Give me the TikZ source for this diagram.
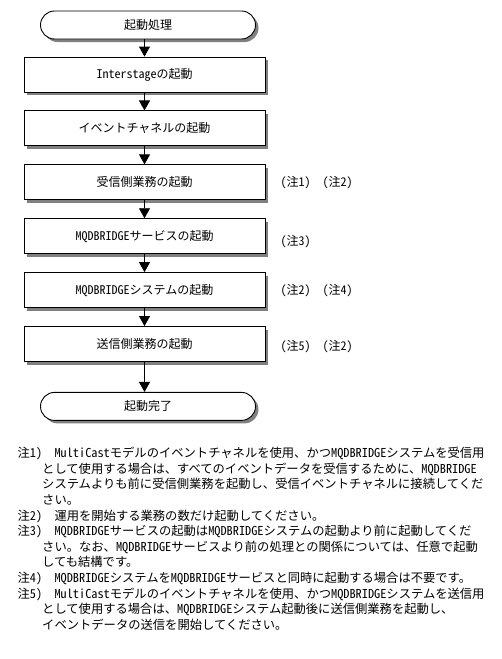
\documentclass[tikz,border=0pt]{standalone}
\usepackage{fontspec}
\setmainfont{Noto Sans CJK JP}
\newfontfamily\hwfont{Noto Sans CJK JP}[RawFeature=+hwid]
\newcommand{\hw}[1]{{\hwfont #1}}
\newcommand{\chu}[1]{\hw{(}注\hw{#1)}}
\usetikzlibrary{positioning,arrows.meta,shapes.misc,shadows}

\begin{document}
\begin{tikzpicture}[x=1pt, y=-1pt,
  blk/.style={draw, line width=0.9pt, fill=white, minimum width=241pt,
              minimum height=35pt, inner sep=0pt, font=\fontsize{12}{14}\selectfont,
              drop shadow={shadow xshift=3pt, shadow yshift=-3pt, fill=gray, opacity=1}},
  term/.style={blk, rounded rectangle, minimum width=215pt, minimum height=28pt},
  ref/.style={anchor=west, inner sep=0pt, font=\fontsize{12}{14}\selectfont},
  arr/.style={-{Triangle[length=10pt, width=11pt]}, line width=0.9pt},
]
  \useasboundingbox (0,0) rectangle (502,659);
  \node[term] (start) at (148,25) {起動処理};
  \node[blk] (iis) at (144.5,74.5) {\hw{Interstage}の起動};
  \node[blk, below=18pt of iis] (evch) {イベントチャネルの起動};
  \node[blk, below=18pt of evch] (recv) {受信側業務の起動};
  \node[blk, below=18pt of recv] (svc) {\hw{MQDBRIDGE}サービスの起動};
  \node[blk, below=18pt of svc] (sys) {\hw{MQDBRIDGE}システムの起動};
  \node[blk, below=18pt of sys] (send) {送信側業務の起動};
  \node[term, below=30pt of send, xshift=3.5pt] (done) {起動完了};

  \node[ref, right=15pt of recv] (recvref) {\chu{1}　\chu{2}};
  \node[ref, right=15pt of svc, yshift=-5pt] (svcref) {\chu{3}};
  \node[ref, right=15pt of sys, yshift=-1pt] (sysref) {\chu{2}　\chu{4}};
  \node[ref, right=15pt of send, yshift=-3pt] (sendref) {\chu{5}　\chu{2}};

  \draw[arr] (start.south -| iis.north) -- (iis.north);
  \draw[arr] (iis) -- (evch);
  \draw[arr] (evch) -- (recv);
  \draw[arr] (recv) -- (svc);
  \draw[arr] (svc) -- (sys);
  \draw[arr] (sys) -- (send);
  \draw[arr] (send.south) -- (send.south |- done.north);

  \node[anchor=north west, align=left, inner sep=0pt,
        font=\fontsize{12.3}{15.6}\selectfont] (notes) at (42,447) {%
    \llap{注\hw{1)}}　\hw{MultiCast}モデルのイベントチャネルを使用、かつ\hw{MQDBRIDGE}システムを受信用\\
    として使用する場合は、すべてのイベントデータを受信するために、\hw{MQDBRIDGE}\\
    システムよりも前に受信側業務を起動し、受信イベントチャネルに接続してくだ\\
    さい。\\
    \llap{注\hw{2)}}　運用を開始する業務の数だけ起動してください。\\
    \llap{注\hw{3)}}　\hw{MQDBRIDGE}サービスの起動は\hw{MQDBRIDGE}システムの起動より前に起動してくだ\\
    さい。なお、\hw{MQDBRIDGE}サービスより前の処理との関係については、任意で起動\\
    しても結構です。\\
    \llap{注\hw{4)}}　\hw{MQDBRIDGE}システムを\hw{MQDBRIDGE}サービスと同時に起動する場合は不要です。\\
    \llap{注\hw{5)}}　\hw{MultiCast}モデルのイベントチャネルを使用、かつ\hw{MQDBRIDGE}システムを送信用\\
    として使用する場合は、\hw{MQDBRIDGE}システム起動後に送信側業務を起動し、\\
    イベントデータの送信を開始してください。};
\end{tikzpicture}
\end{document}
